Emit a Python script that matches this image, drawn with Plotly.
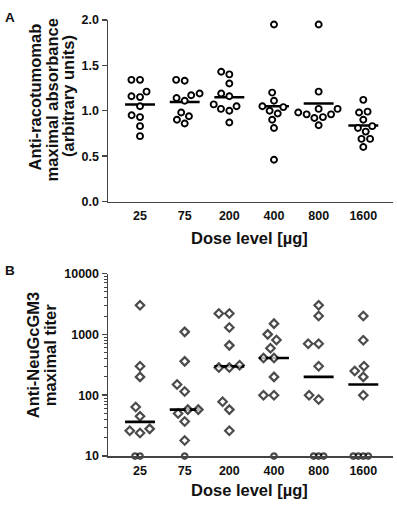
import math
import numpy as np
import plotly.graph_objects as go

# ---------------- data ----------------
dose_labels = ["25", "75", "200", "400", "800", "1600"]

# Panel A: anti-racotumomab maximal absorbance (arbitrary units)
abs_25 = [1.34, 1.34, 1.21, 1.15, 1.16, 1.05, 0.93, 0.95, 0.83, 0.72]
abs_75 = [1.34, 1.33, 1.17, 1.19, 1.14, 1.11, 0.94, 0.98, 0.86, 0.90]
abs_200 = [1.40, 1.43, 1.30, 1.16, 1.19, 1.07, 1.02, 1.00, 1.05, 0.87]
abs_400 = [1.95, 1.20, 1.11, 1.04, 1.00, 1.05, 0.97, 0.90, 0.81, 0.46]
abs_800 = [1.95, 1.21, 1.02, 1.02, 0.98, 0.96, 0.96, 0.93, 0.92, 0.84]
abs_1600 = [1.12, 0.99, 0.98, 0.90, 0.81, 0.83, 0.77, 0.69, 0.69, 0.60]

# Panel B: anti-NeuGcGM3 maximal titer
tit_25 = [3000, 300, 200, 64, 45, 28, 26, 24, 10, 10]
tit_75 = [1100, 360, 150, 115, 58, 58, 50, 37, 18, 10]
tit_200 = [2200, 2200, 1300, 660, 310, 285, 285, 78, 58, 26]
tit_400 = [1500, 1000, 810, 590, 410, 410, 200, 100, 100, 10]
tit_800 = [3000, 2000, 700, 700, 300, 100, 85, 10, 10, 10]
tit_1600 = [2000, 800, 300, 250, 200, 100, 10, 10, 10, 10]

abs_groups = [abs_25, abs_75, abs_200, abs_400, abs_800, abs_1600]
tit_groups = [tit_25, tit_75, tit_200, tit_400, tit_800, tit_1600]

# ---------------- geometry ----------------
W, H = 397, 512
AX_L, AX_R = 108, 393
A_TOP, A_BOT = 13.3, 200.0
B_TOP, B_BOT = 274.0, 461.7
XR = [-0.717, 5.665]
CAT_PX = (AX_R - AX_L) / (XR[1] - XR[0])
A_PX_PER_UNIT = (A_BOT - A_TOP) / 2.0
B_PX_PER_DEC = (B_BOT - B_TOP) / 3.0


def swarm(ypx, diam):
    """Simple beeswarm: returns horizontal pixel offsets."""
    order = sorted(range(len(ypx)), key=lambda i: ypx[i])
    placed = []
    offs = [0.0] * len(ypx)
    for i in order:
        yi = ypx[i]
        forb = []
        cands = [0.0]
        for (xj, yj) in placed:
            dy = abs(yi - yj)
            if dy < diam:
                dx = math.sqrt(diam * diam - dy * dy)
                forb.append((xj - dx, xj + dx))
                cands += [xj - dx, xj + dx]
        ok = [c for c in cands if all(not (a + 1e-6 < c < b - 1e-6) for a, b in forb)]
        best = min(ok, key=lambda c: (round(abs(c), 3), c))
        offs[i] = best
        placed.append((best, yi))
    return offs


fig = go.Figure()
LINE_HALF = 0.335
ink = "#000000"

# ---- Panel A ----
ax_x, ax_y, mx, my = [], [], [], []
for gi, vals in enumerate(abs_groups):
    ypx = [v * A_PX_PER_UNIT for v in vals]
    offs = swarm(ypx, 8.6)
    ax_x += [gi + o / CAT_PX for o in offs]
    ax_y += vals
    m = float(np.mean(vals))
    mx += [gi - LINE_HALF, gi + LINE_HALF, None]
    my += [m, m, None]

fig.add_trace(go.Scatter(x=mx, y=my, mode="lines", line=dict(color=ink, width=2.6),
                         xaxis="x", yaxis="y", showlegend=False, hoverinfo="skip"))
fig.add_trace(go.Scatter(x=ax_x, y=ax_y, mode="markers", cliponaxis=False,
                         marker=dict(symbol="circle", size=6, color="white",
                                     line=dict(width=1.9, color=ink)),
                         xaxis="x", yaxis="y", showlegend=False))

# ---- Panel B ----
bx, by, bsz, bsym = [], [], [], []
mx2, my2 = [], []
floor_val = 10
for gi, vals in enumerate(tit_groups):
    up = [v for v in vals if v > floor_val]
    fl = [v for v in vals if v <= floor_val]
    ypx = [math.log10(v) * B_PX_PER_DEC for v in up]
    offs = swarm(ypx, 10.5)
    bx += [gi + o / CAT_PX for o in offs]
    by += up
    bsz += [6.5] * len(up)
    bsym += ["diamond"] * len(up)
    if fl:
        offs_f = swarm([0.0] * len(fl), 5.0)
        bx += [gi + o / CAT_PX for o in offs_f]
        by += fl
        bsz += [5.5] * len(fl)
        bsym += ["circle"] * len(fl)
    med = float(np.median(vals))
    mx2 += [gi - LINE_HALF, gi + LINE_HALF, None]
    my2 += [med, med, None]

fig.add_trace(go.Scatter(x=mx2, y=my2, mode="lines", line=dict(color=ink, width=2.6),
                         xaxis="x2", yaxis="y2", showlegend=False, hoverinfo="skip"))
fig.add_trace(go.Scatter(x=bx, y=by, mode="markers", cliponaxis=False,
                         marker=dict(symbol=bsym, size=bsz, color="white",
                                     line=dict(width=2.2, color=ink)),
                         xaxis="x2", yaxis="y2", showlegend=False))

# ---------------- axes ----------------
FONT = "Liberation Sans, Arial, sans-serif"
tickfont = dict(family=FONT, size=12.5, color="#111111", weight="bold")
axcol = "#444444"
xdom = [AX_L / W, AX_R / W]

common_x = dict(range=XR, tickmode="array", tickvals=list(range(6)), ticktext=dose_labels,
                showline=True, linecolor=axcol, linewidth=1.5, showgrid=False, zeroline=False,
                ticks="", tickfont=tickfont, ticklabelstandoff=2,
                domain=xdom, fixedrange=True)

fig.update_layout(
    xaxis=dict(**common_x, anchor="y"),
    yaxis=dict(domain=[1 - A_BOT / H, 1 - A_TOP / H], range=[0, 2.0], tickvals=[0, 0.5, 1.0, 1.5, 2.0],
               tickformat=".1f", showline=True, linecolor=axcol, linewidth=1.5, showgrid=False,
               zeroline=False, ticks="outside", ticklen=5, tickwidth=1.5, tickcolor=axcol,
               tickfont=tickfont, anchor="x", fixedrange=True),
    xaxis2=dict(**common_x, anchor="y2"),
    yaxis2=dict(domain=[1 - B_BOT / H, 1 - B_TOP / H], type="log", range=[1, 4],
                tickvals=[10, 100, 1000, 10000], ticktext=["10", "100", "1000", "10000"],
                showline=True, linecolor=axcol, linewidth=1.5, showgrid=False, zeroline=False,
                ticks="outside", ticklen=5, tickwidth=1.5, tickcolor=axcol, tickfont=tickfont,
                minor=dict(ticks="outside", ticklen=2.5, tickwidth=1, tickcolor=axcol, dtick="D1",
                           showgrid=False),
                anchor="x2", fixedrange=True),
    width=W, height=H,
    margin=dict(l=0, r=0, t=0, b=0),
    plot_bgcolor="white", paper_bgcolor="white",
    showlegend=False,
)

# ---------------- text ----------------
def ann(text, px, py, size=16.5, angle=0):
    fig.add_annotation(text=text, x=px / W, y=1 - py / H, xref="paper", yref="paper",
                       xanchor="center", yanchor="middle", showarrow=False, textangle=angle,
                       font=dict(family=FONT, size=size, color="#111111", weight="bold"))

ann("A", 10, 11, size=13.5)
ann("B", 9.5, 270.5, size=13.5)
ann("Anti-racotumomab", 35, 93, angle=-90)
ann("maximal absorbance", 52, 96, angle=-90)
ann("(arbitrary units)", 68.5, 92, angle=-90)
ann("Dose level [µg]", 250, 237)
ann("Anti-NeuGcGM3", 33, 358, angle=-90)
ann("maximal titer", 50, 358, angle=-90)
ann("Dose level [µg]", 250, 496.5)

fig.write_html("out.html", config={"displayModeBar": False, "staticPlot": True},
               post_script="document.body.style.margin='0px';document.body.style.overflow='hidden';")
